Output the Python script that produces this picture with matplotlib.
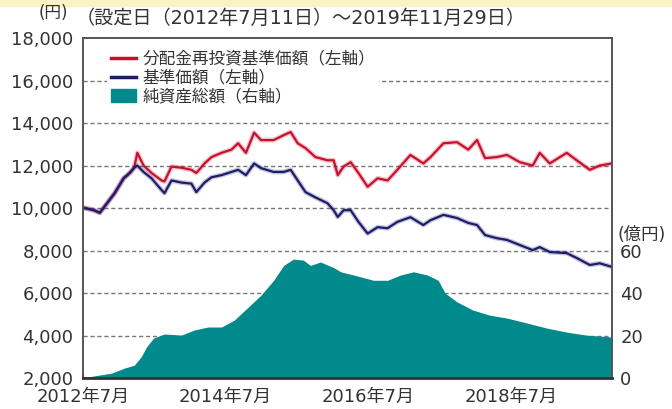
import matplotlib
matplotlib.use('Agg')
import pandas as pd
import matplotlib.pyplot as plt
import matplotlib.patheffects as pe
from matplotlib.patches import Patch, Rectangle
from matplotlib.lines import Line2D

# 基準価額 / 分配金再投資基準価額 (円)
line_dates = [
    '2012-07-11', '2012-08-25', '2012-09-25', '2012-12-10', '2013-01-25',
    '2013-02-25', '2013-03-20', '2013-04-05', '2013-05-07', '2013-06-17',
    '2013-08-07', '2013-08-22', '2013-09-27', '2013-11-17', '2014-01-07',
    '2014-02-01', '2014-03-15', '2014-04-20', '2014-06-10', '2014-07-31',
    '2014-09-03', '2014-10-13', '2014-11-24', '2014-12-29', '2015-03-04',
    '2015-04-24', '2015-05-30', '2015-07-05', '2015-08-14', '2015-10-04',
    '2015-12-04', '2016-01-05', '2016-01-26', '2016-02-25', '2016-04-01',
    '2016-05-11', '2016-06-27', '2016-08-17', '2016-10-07', '2016-11-26',
    '2017-02-01', '2017-04-08', '2017-05-15', '2017-07-20', '2017-09-28',
    '2017-11-24', '2018-01-08', '2018-02-18', '2018-04-20', '2018-06-10',
    '2018-08-15', '2018-10-20', '2018-11-25', '2019-01-15', '2019-04-12',
    '2019-06-02', '2019-08-08', '2019-09-28', '2019-11-29',
]
reinvest_nav = [
    10000, 9900, 9780, 10700, 11400, 11650, 11900, 12600, 12000, 11650,
    11300, 11250, 11950, 11900, 11800, 11650, 12100, 12400, 12600, 12750,
    13050, 12600, 13550, 13200, 13200, 13430, 13580, 13050, 12820, 12400,
    12250, 12250, 11550, 11950, 12160, 11650, 11000, 11400, 11300, 11800,
    12500, 12100, 12400, 13050, 13100, 12750, 13200, 12350, 12400, 12500,
    12160, 12000, 12600, 12100, 12600, 12250, 11800, 12000, 12100,
]
nav = [
    10000, 9900, 9780, 10700, 11400, 11650, 11900, 12000, 11700, 11400,
    10850, 10700, 11300, 11200, 11150, 10750, 11200, 11450, 11550, 11700,
    11800, 11550, 12100, 11880, 11700, 11700, 11800, 11300, 10750, 10500,
    10230, 9900, 9580, 9900, 9900, 9350, 8800, 9100, 9050, 9350,
    9570, 9200, 9430, 9680, 9530, 9300, 9200, 8730, 8580, 8500,
    8260, 8020, 8160, 7930, 7880, 7650, 7320, 7400, 7230,
]

# 純資産総額 (億円)
asset_dates = [
    '2012-07-11', '2012-11-25', '2013-01-30', '2013-03-20', '2013-04-25',
    '2013-05-22', '2013-06-27', '2013-08-22', '2013-11-17', '2014-01-22',
    '2014-04-01', '2014-06-10', '2014-08-15', '2014-10-25', '2014-12-29',
    '2015-03-04', '2015-04-24', '2015-06-13', '2015-08-03', '2015-09-08',
    '2015-10-29', '2016-01-05', '2016-02-10', '2016-04-16', '2016-07-27',
    '2016-10-07', '2016-12-13', '2017-02-17', '2017-04-28', '2017-06-23',
    '2017-07-28', '2017-09-28', '2017-12-17', '2018-03-13', '2018-06-10',
    '2018-09-20', '2018-12-31', '2019-04-12', '2019-07-20', '2019-11-29',
]
net_assets = [
    0.3, 2.3, 4.7, 6.0, 10.0, 14.6, 18.8, 20.7, 20.2, 22.6,
    24.0, 24.0, 27.3, 33.4, 39.0, 46.0, 53.0, 56.0, 55.5, 53.0,
    54.6, 52.0, 50.0, 48.5, 46.0, 46.0, 48.5, 50.0, 48.5, 46.0,
    40.0, 35.8, 32.0, 29.6, 28.2, 25.9, 23.5, 21.6, 20.2, 19.3,
]

left_ticks = [2000, 4000, 6000, 8000, 10000, 12000, 14000, 16000, 18000]
right_ticks = [0, 20, 40, 60]
x_ticks = ['2012-07-01', '2014-07-01', '2016-07-01', '2018-07-01']
x_labels = ['2012年7月', '2014年7月', '2016年7月', '2018年7月']
labels = ['分配金再投資基準価額（左軸）', '基準価額（左軸）', '純資産総額（右軸）']

plt.rcParams['font.family'] = ['Noto Sans CJK JP', 'DejaVu Sans']
NUM_FONT = ['DejaVu Sans', 'Noto Sans CJK JP']

RED = '#c8102e'
BLUE = '#1f1c6b'
TEAL = '#008a8c'
TXT = '#333333'

fig = plt.figure(figsize=(6.72, 4.09), dpi=100)
fig.patches.append(Rectangle((0, 0.986), 1, 0.014, transform=fig.transFigure,
                             color='#fbf3c4', zorder=0))
ax = fig.add_axes([0.1235, 0.0758, 0.787, 0.831])
ax2 = ax.twinx()

ld = pd.to_datetime(line_dates)
ad = pd.to_datetime(asset_dates)

# grid behind the area
for v in left_ticks[1:-1]:
    ax.axhline(v, color='#777777', lw=1.0, ls=(0, (3, 2)), zorder=1)

halo = lambda c: [pe.Stroke(linewidth=3.5, foreground=c, alpha=0.25), pe.Normal()]
ax.plot(ld, reinvest_nav, color=RED, lw=1.6, zorder=3, path_effects=halo(RED))
ax.plot(ld, nav, color=BLUE, lw=1.6, zorder=3, path_effects=halo(BLUE))

ax2.fill_between(ad, 0, net_assets, color=TEAL, lw=0, zorder=2)

ax.set_xlim(pd.Timestamp('2012-07-01'), pd.Timestamp('2019-11-29'))
ax.set_ylim(2000, 18000)
ax2.set_ylim(0, 160)

ax.set_yticks(left_ticks)
ax.set_yticklabels([f'{v:,}' for v in left_ticks], family=NUM_FONT)
ax2.set_yticks(right_ticks)
ax2.set_yticklabels([str(v) for v in right_ticks], family=NUM_FONT)
ax.set_xticks(pd.to_datetime(x_ticks))
ax.set_xticklabels(x_labels, family=NUM_FONT)

ax.tick_params(axis='y', length=0, pad=7, labelsize=13, labelcolor=TXT)
ax2.tick_params(axis='y', length=0, pad=6, labelsize=13, labelcolor=TXT)
ax.tick_params(axis='x', direction='in', length=3, width=1.5, color='#333333',
               pad=7, labelsize=13, labelcolor=TXT)

for a in (ax, ax2):
    for s in a.spines.values():
        s.set_color('#555555')
        s.set_linewidth(1.2)
ax2.spines['bottom'].set_linewidth(2)
ax2.spines['bottom'].set_color('#333333')

fig.text(0.058, 0.967, '(円)', fontsize=12, color=TXT, va='center',
         family=NUM_FONT)
fig.text(0.112, 0.955, '（設定日（2012年7月11日）～2019年11月29日）',
         fontsize=13.8, color=TXT, va='center', family=NUM_FONT)
ax2.text(1.01, 0.395, '(億円)', transform=ax2.transAxes, fontsize=12.5,
         color=TXT, va='bottom', ha='left', family=NUM_FONT)

handles = [Line2D([], [], color=RED, lw=2.5), Line2D([], [], color=BLUE, lw=2.5),
           Patch(color=TEAL)]
leg = ax2.legend(handles, labels, loc='upper left', bbox_to_anchor=(0.03, 1.0),
                 fontsize=12, frameon=True, facecolor='white', edgecolor='none',
                 framealpha=1, handlelength=1.45, handleheight=0.8,
                 handletextpad=0.4, labelspacing=0.12, borderpad=0.25)
for t in leg.get_texts():
    t.set_color(TXT)

fig.savefig('out.png', dpi=100)
